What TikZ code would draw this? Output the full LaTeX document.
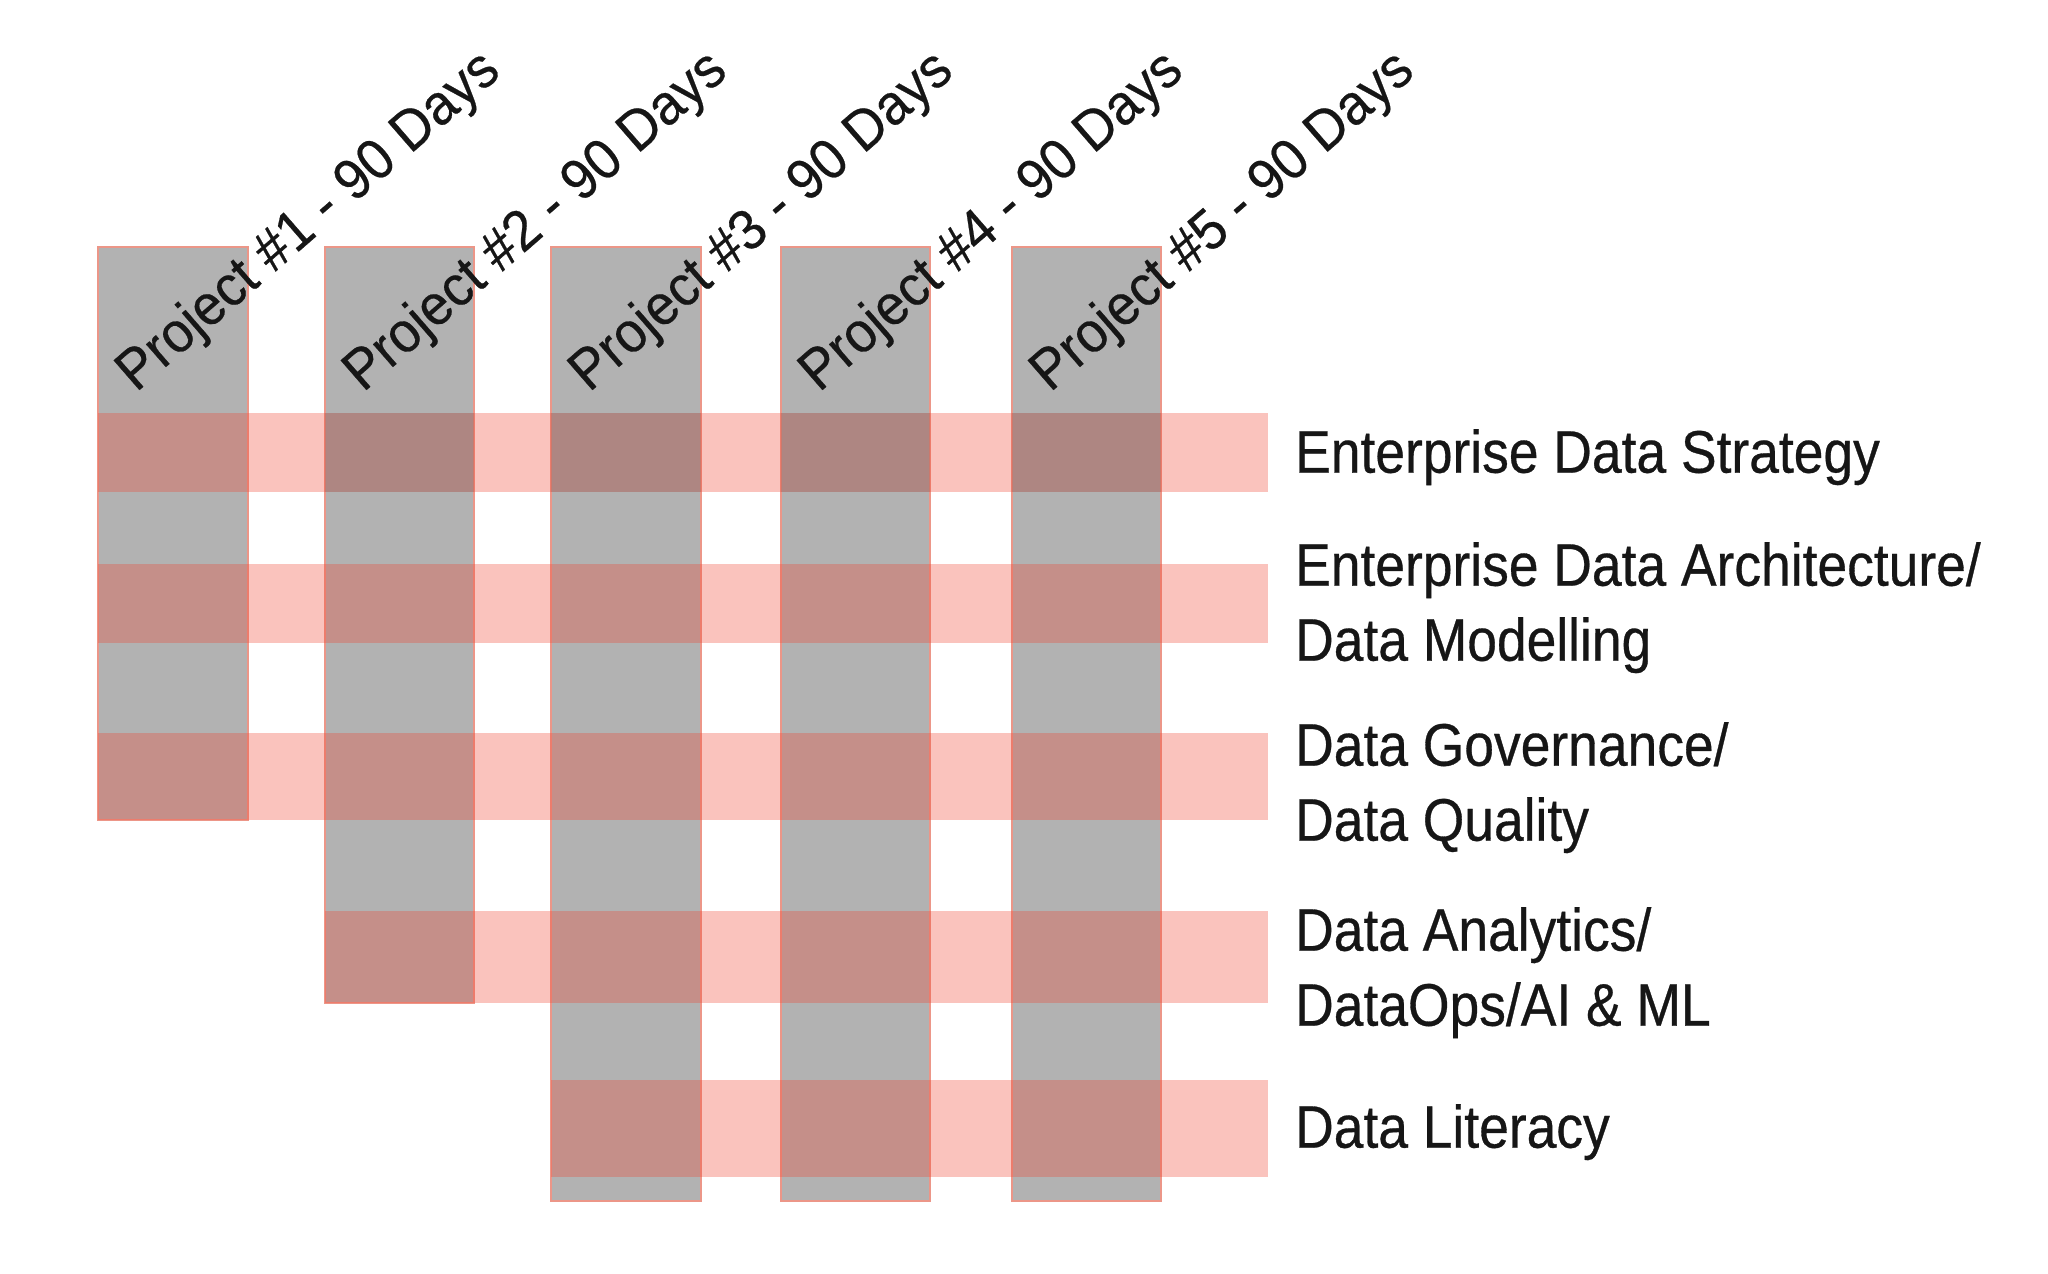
\documentclass[tikz,border=0pt]{standalone}
\usepackage{fontspec}
\newfontfamily\labfont[FakeStretch=0.89,FakeBold=0.5]{Liberation Sans}
\newfontfamily\projfont[FakeStretch=0.94,FakeBold=0.4]{Liberation Sans}
\definecolor{colgrey}{RGB}{178,178,178}
\definecolor{coledge}{RGB}{236,150,136}
\definecolor{bandred}{RGB}{240,70,52}
\definecolor{shade}{RGB}{113,113,113}
\definecolor{txt}{RGB}{22,22,22}
\begin{document}
\begin{tikzpicture}[x=1pt,y=-1pt,
  colbar/.style={fill=colgrey, draw=coledge, line width=1.2pt},
  bandbar/.style={fill=bandred, fill opacity=0.32},
  darkcell/.style={fill=shade, fill opacity=0.27},
  projlabel/.style={rotate=41, anchor=base west, inner sep=0pt, text=txt,
    font=\projfont\fontsize{57}{68}\selectfont},
  rowlabel/.style={anchor=north west, inner sep=0pt, align=left, text=txt,
    font=\labfont\fontsize{60}{75}\selectfont}]
\fill[white] (0,0) rectangle (2048,1274);
\useasboundingbox (0,0) rectangle (2048,1274);
% project columns
\draw[colbar] (98,247) rectangle (248,820);
\draw[colbar] (325,247) rectangle (474,1003);
\draw[colbar] (551,247) rectangle (701,1201);
\draw[colbar] (781,247) rectangle (930,1201);
\draw[colbar] (1012,247) rectangle (1161,1201);
% capability bands
\fill[bandbar] (98,413) rectangle (1268,492);
\fill[bandbar] (98,564) rectangle (1268,643);
\fill[bandbar] (98,733) rectangle (1268,820);
\fill[bandbar] (325,911) rectangle (1268,1003);
\fill[bandbar] (551,1080) rectangle (1268,1177);
% darker cells of the first band
\foreach \l/\r in {325/474,551/701,781/930,1012/1161}
  \fill[darkcell] (\l,413) rectangle (\r,492);
% project labels
\node[projlabel] (p1) at (136,393) {Project \#1 - 90 Days};
\node[projlabel] (p2) at (363,393) {Project \#2 - 90 Days};
\node[projlabel] (p3) at (589,393) {Project \#3 - 90 Days};
\node[projlabel] (p4) at (819,393) {Project \#4 - 90 Days};
\node[projlabel] (p5) at (1050,393) {Project \#5 - 90 Days};
% row labels
\node[rowlabel] (r1) at (1295,429) {Enterprise Data Strategy};
\node[rowlabel] (r2) at (1295,542) {Enterprise Data Architecture/\\Data Modelling};
\node[rowlabel] (r3) at (1295,722) {Data Governance/\\Data Quality};
\node[rowlabel] (r4) at (1295,907) {Data Analytics/\\DataOps/AI \& ML};
\node[rowlabel] (r5) at (1295,1104) {Data Literacy};
\end{tikzpicture}
\end{document}
